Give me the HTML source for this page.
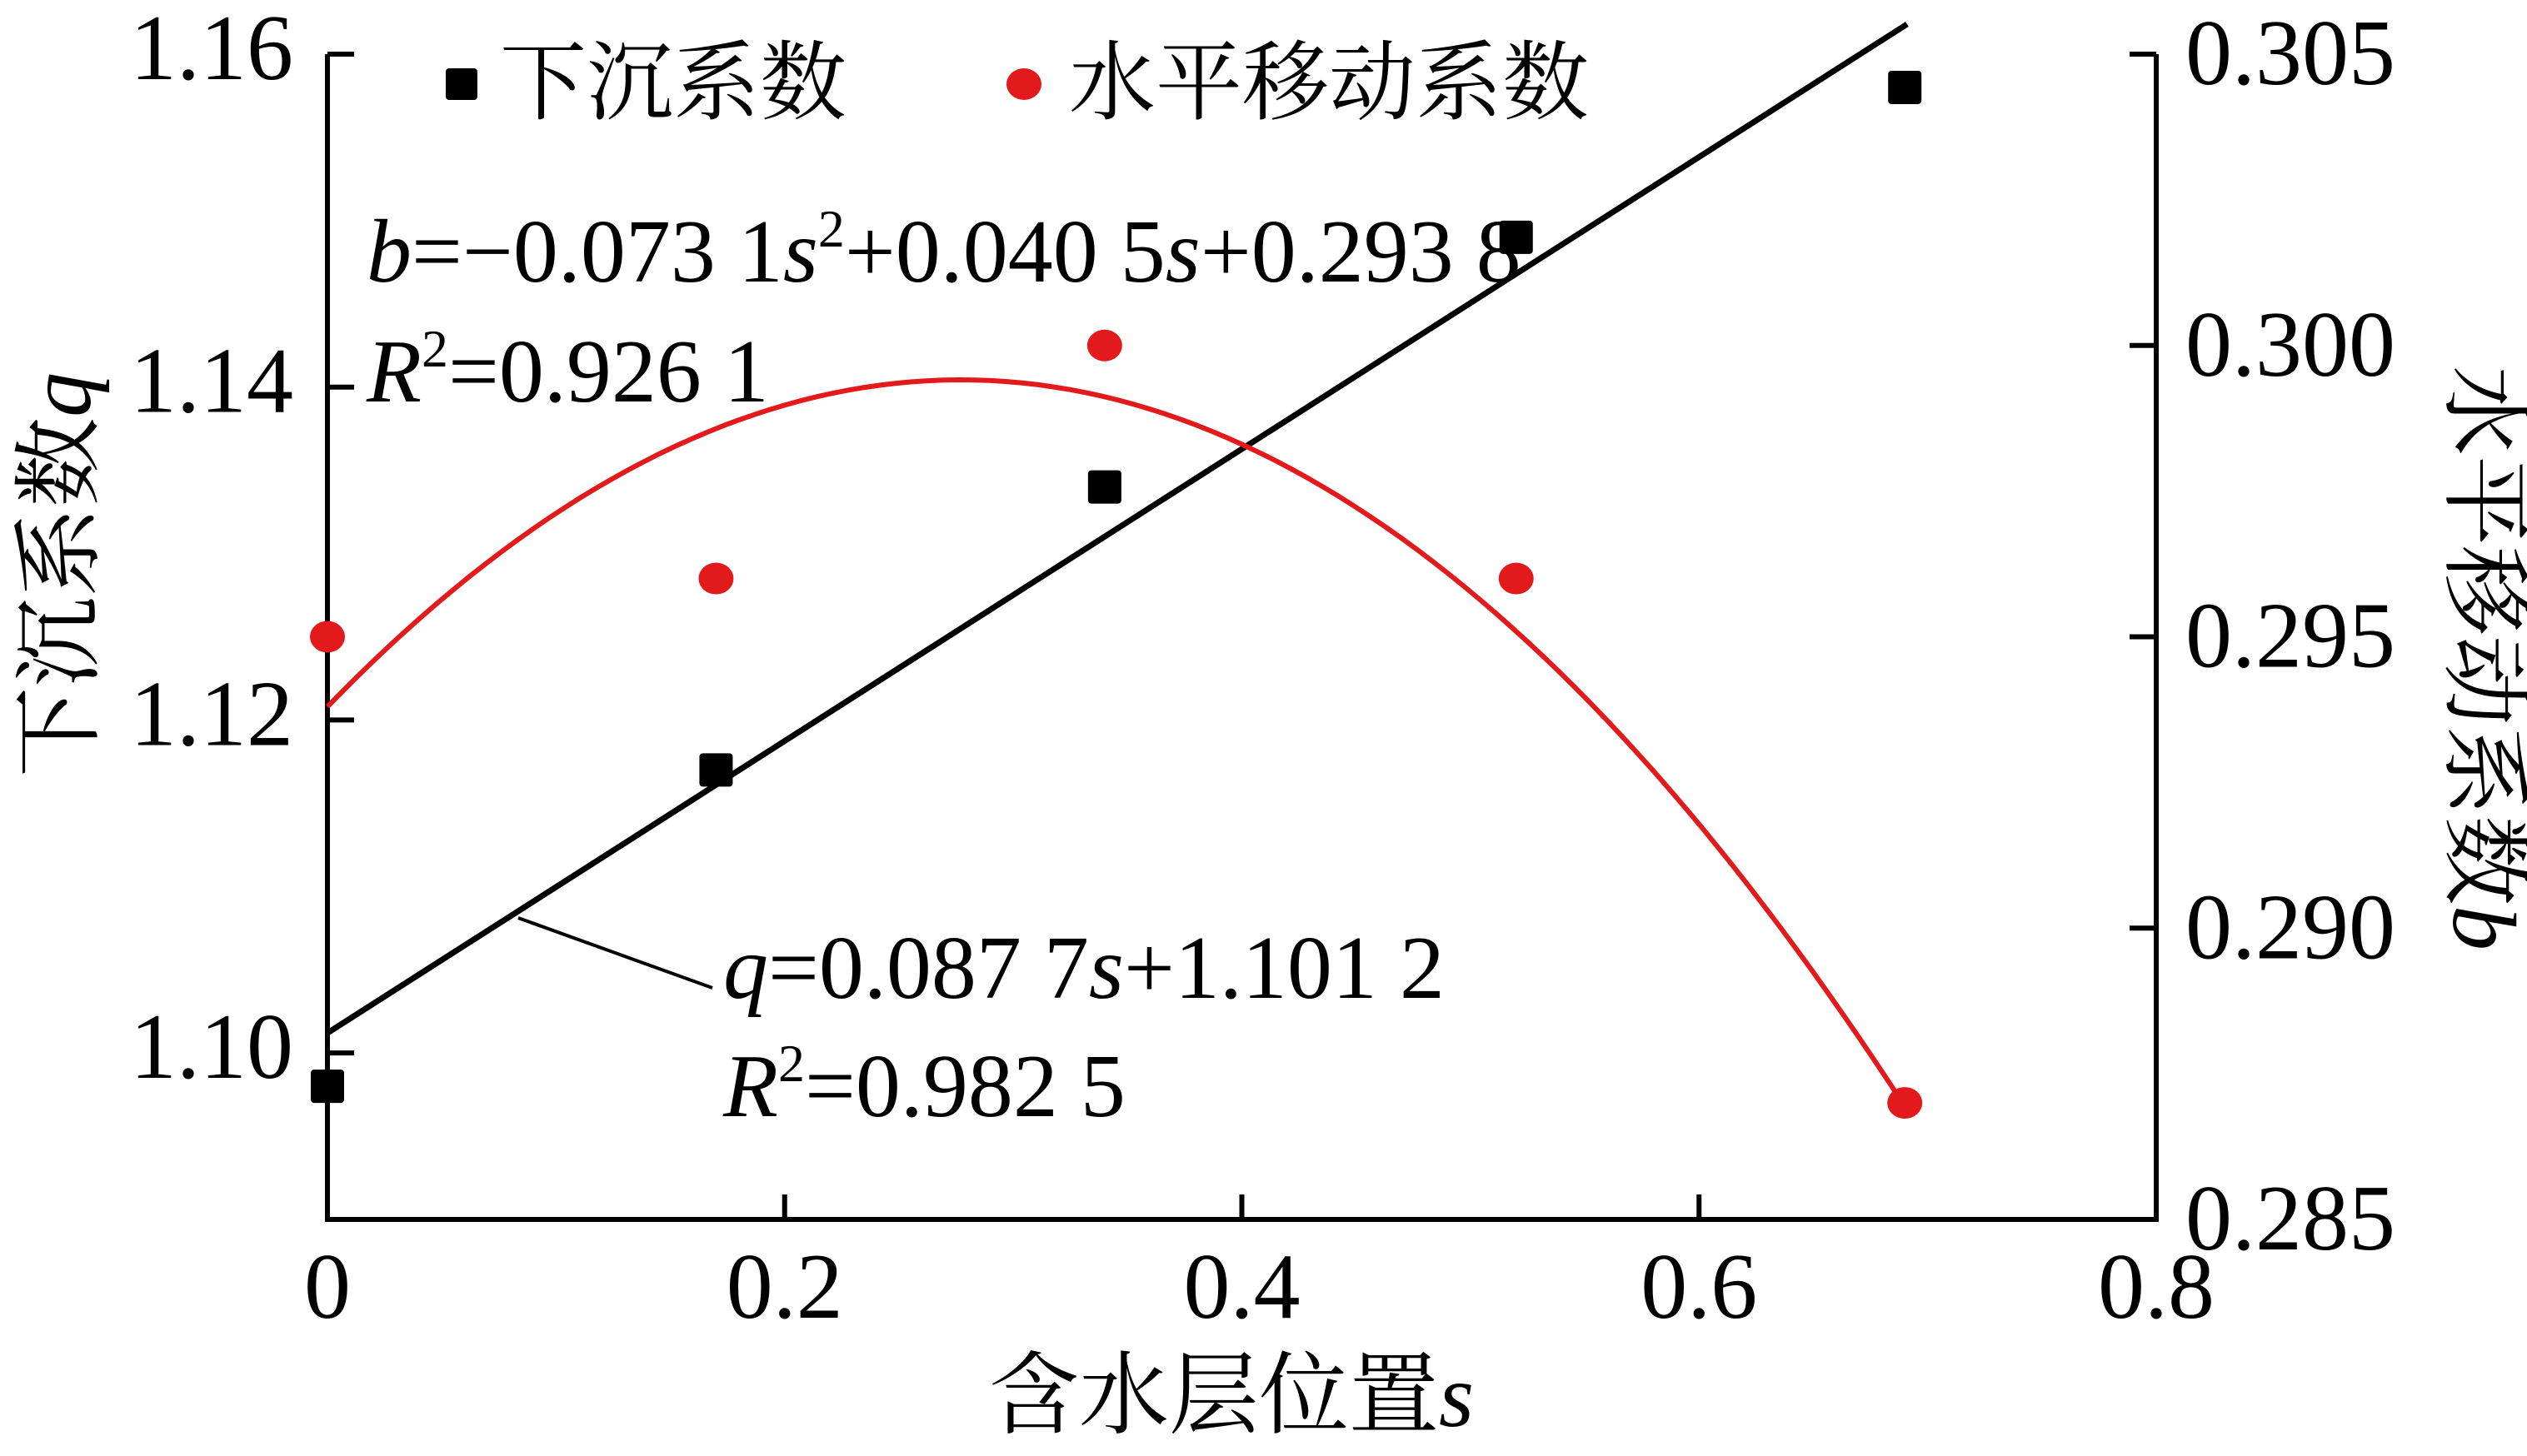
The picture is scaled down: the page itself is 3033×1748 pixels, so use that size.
<!DOCTYPE html>
<html><head><meta charset="utf-8"><style>
html,body{margin:0;padding:0;background:#fff;}
svg{display:block;}
svg text{font-family:"Liberation Serif","Times New Roman","Noto Serif CJK SC","Noto Sans CJK SC",serif;fill:#000;}
</style></head><body>
<svg id="chart" width="3033" height="1748" viewBox="0 0 3033 1748" xmlns="http://www.w3.org/2000/svg" font-family="Liberation Serif, Times New Roman, Noto Serif CJK SC, serif"></svg>
<script>
const sValues = [0, 0.17, 0.34, 0.52, 0.69];
const qValues = [1.098, 1.117, 1.134, 1.149, 1.158];
const bValues = [0.295, 0.296, 0.300, 0.296, 0.287];
const xTicks = [0, 0.2, 0.4, 0.6, 0.8];
const xTickLabels = ["0", "0.2", "0.4", "0.6", "0.8"];
const qTicks = [1.10, 1.12, 1.14, 1.16];
const qTickLabels = ["1.10", "1.12", "1.14", "1.16"];
const bTicks = [0.285, 0.290, 0.295, 0.300, 0.305];
const bTickLabels = ["0.285", "0.290", "0.295", "0.300", "0.305"];
const qFit = [0.0877, 1.1012];
const bFit = [-0.0731, 0.0405, 0.2938];
const fitRange = [0, 0.691];

const L = 393, R = 2588, T = 65, B = 1464;
const xS = s => L + (s - 0) / 0.8 * (R - L);
const yQ = q => B - (q - 1.09) / 0.07 * (B - T);
const yB = b => B - (b - 0.285) / 0.020 * (B - T);
const NS = "http://www.w3.org/2000/svg";
const svg = document.getElementById('chart');
function mk(tag, attrs, parent) {
  const e = document.createElementNS(NS, tag);
  for (const k in attrs) e.setAttribute(k, attrs[k]);
  (parent || svg).appendChild(e);
  return e;
}
function txt(str, attrs, parent) { const t = mk('text', attrs, parent); t.textContent = str; return t; }

let a = mk('path', {d:`M${L},${T} V${B} H${R} V${T}`, fill:'none', stroke:'#000', 'stroke-width':6});


let tl = mk('line', {x1:L, y1:T, x2:L+32, y2:T, stroke:'#000', 'stroke-width':6});


let tr = mk('line', {x1:R-32, y1:T, x2:R, y2:T, stroke:'#000', 'stroke-width':6});



xTicks.forEach((v, i) => {
  const x = xS(v);
  if (i > 0 && i < xTicks.length - 1) {
    const t = mk('line', {x1:x, y1:B, x2:x, y2:B-30, stroke:'#000', 'stroke-width':6});
    
    
  }
  const lb = txt(xTickLabels[i], {x:x, y:B+118, 'font-size':112, 'text-anchor':'middle'});
  
  
});
qTicks.forEach((v, i) => {
  const y = yQ(v);
  const t = mk('line', {x1:L, y1:y, x2:L+32, y2:y, stroke:'#000', 'stroke-width':6});
  
  
  const lb = txt(qTickLabels[i], {x:352, y:y+30, 'font-size':112, 'text-anchor':'end'});
  
  
});
bTicks.forEach((v, i) => {
  const y = yB(v);
  const t = mk('line', {x1:R-32, y1:y, x2:R, y2:y, stroke:'#000', 'stroke-width':6});
  
  
  const lb = txt(bTickLabels[i], {x:2623, y:y+36, 'font-size':112});
  
  
});

const ln = mk('line', {x1:xS(fitRange[0]), y1:yQ(qFit[1]+qFit[0]*fitRange[0]), x2:xS(fitRange[1]), y2:yQ(qFit[1]+qFit[0]*fitRange[1]), stroke:'#000', 'stroke-width':7});


let d = '';
for (let i = 0; i <= 100; i++) {
  const s = fitRange[0] + (fitRange[1]-fitRange[0]) * i / 100;
  const b = bFit[0]*s*s + bFit[1]*s + bFit[2];
  d += (i ? 'L' : 'M') + xS(s).toFixed(1) + ',' + yB(b).toFixed(1);
}
const cv = mk('path', {d:d, fill:'none', stroke:'#e31a1c', 'stroke-width':6});



sValues.forEach((s, i) => {
  const r = mk('rect', {x:xS(s)-20, y:yQ(qValues[i])-20, width:40, height:40, rx:4, fill:'#000'});
  
  
  const c = mk('ellipse', {cx:xS(s), cy:yB(bValues[i]), rx:21, ry:19, fill:'#e31a1c'});
  
  
});
</script>
<svg style="position:absolute;left:0;top:0" width="3033" height="1748" font-family="Liberation Serif, Times New Roman, Noto Serif CJK SC, serif">
  <g>
    <rect x="535" y="82" width="38" height="38" rx="4" fill="#000"/>
    <text x="600" y="135" font-size="104">下沉系数</text>
    <ellipse cx="1229" cy="101" rx="21" ry="19" fill="#e31a1c"/>
    <text x="1283" y="135" font-size="104">水平移动系数</text>
  </g>
  <text x="440" y="338" font-size="108"><tspan font-style="italic">b</tspan>=−0.073 1<tspan font-style="italic">s</tspan><tspan font-size="64" dy="-42">2</tspan><tspan dy="42">+0.040 5</tspan><tspan font-style="italic">s</tspan>+0.293 8</text>
  <text x="440" y="482" font-size="108"><tspan font-style="italic">R</tspan><tspan font-size="64" dy="-42">2</tspan><tspan dy="42">=0.926 1</tspan></text>
  <line x1="622" y1="1102" x2="855" y2="1186" stroke="#000" stroke-width="4"/>
  <text x="868" y="1198" font-size="108"><tspan font-style="italic">q</tspan>=0.087 7<tspan font-style="italic">s</tspan>+1.101 2</text>
  <text x="868" y="1340" font-size="108"><tspan font-style="italic">R</tspan><tspan font-size="64" dy="-42">2</tspan><tspan dy="42">=0.982 5</tspan></text>
  <text x="1478" y="1712" font-size="108" text-anchor="middle">含水层位置<tspan font-style="italic">s</tspan></text>
  <text transform="translate(108,690) rotate(-90)" font-size="108" text-anchor="middle">下沉系数<tspan font-style="italic">q</tspan></text>
  <text transform="translate(2945,790) rotate(90)" font-size="108" text-anchor="middle">水平移动系数<tspan font-style="italic">b</tspan></text>
</svg>
</body></html>
